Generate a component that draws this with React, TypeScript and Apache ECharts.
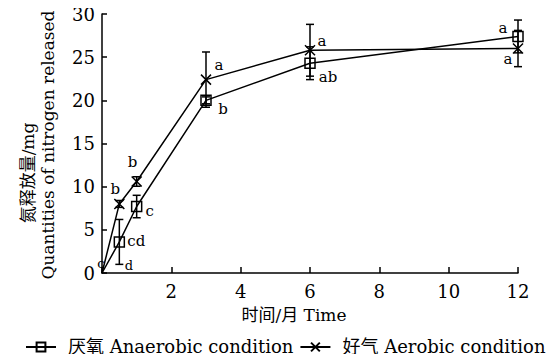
import React, { useEffect, useRef } from "react";
import * as echarts from "echarts";

const months = [0, 0.5, 1, 3, 6, 12];
const anaerobic = [0, 3.6, 7.7, 20.0, 24.3, 27.4];
const anaerobicErr = [0, 2.6, 1.3, 0.4, 1.9, 1.9];
const anaerobicLetters = ["d", "cd", "c", "b", "ab", "a"];
const aerobic = [0, 8.0, 10.6, 22.4, 25.8, 26.0];
const aerobicErr = [0, 0.4, 0.55, 3.2, 3.0, 2.1];
const aerobicLetters = ["c", "b", "b", "a", "a", "a"];
const xTicks = [0, 2, 4, 6, 8, 10, 12];
const yTicks = [0, 5, 10, 15, 20, 25, 30];

const anaerobicLabelOffsets = [[27, -8], [17, -1], [13, 4], [17, 9], [18, 14], [-15, -8]];
const aerobicLabelOffsets = [[-1, -10], [-4, -15], [-4, -19], [13, -15], [12, -9], [-10, 10]];

const FONT = "'DejaVu Serif', 'Noto Sans CJK SC', serif";
const XSYM = "path://M0,0L10,10M0,10L10,0";

function lineData(vals: number[], letters: string[], offs: number[][]) {
  return months.map((m, i) => ({
    value: [m, vals[i]],
    symbolSize: i === 0 ? 0 : 10,
    label: {
      show: true,
      formatter: letters[i],
      position: "inside",
      offset: offs[i],
      fontSize: i === 0 ? 13 : 15,
      fontFamily: FONT,
      color: "#000",
    },
  }));
}

function errData(vals: number[], errs: number[]) {
  return months
    .map((m, i) => [m, vals[i] - errs[i], vals[i] + errs[i]])
    .filter((d, i) => errs[i] > 0);
}

function errorSeries(vals: number[], errs: number[]) {
  return {
    type: "custom",
    data: errData(vals, errs),
    z: 5,
    silent: true,
    renderItem: (params: any, api: any) => {
      const x = api.value(0);
      const lo = api.coord([x, api.value(1)]);
      const hi = api.coord([x, api.value(2)]);
      const w = 4;
      const style = { stroke: "#000", lineWidth: 1.5, fill: null };
      return {
        type: "group",
        children: [
          { type: "line", shape: { x1: lo[0], y1: lo[1], x2: hi[0], y2: hi[1] }, style },
          { type: "line", shape: { x1: lo[0] - w, y1: lo[1], x2: lo[0] + w, y2: lo[1] }, style },
          { type: "line", shape: { x1: hi[0] - w, y1: hi[1], x2: hi[0] + w, y2: hi[1] }, style },
        ],
      };
    },
  };
}

export default function App() {
  const ref = useRef<HTMLDivElement>(null);
  useEffect(() => {
    if (!ref.current) return;
    const chart = echarts.init(ref.current, null, { renderer: "svg" });
    chart.setOption({
      animation: false,
      backgroundColor: "#fff",
      textStyle: { fontFamily: FONT },
      grid: { left: 102, right: 36, top: 14, bottom: 89 },
      xAxis: {
        type: "value",
        min: xTicks[0],
        max: xTicks[xTicks.length - 1],
        interval: 2,
        axisLine: { lineStyle: { color: "#000", width: 1.5 } },
        axisTick: { inside: true, length: 6, lineStyle: { color: "#000", width: 1.5 } },
        axisLabel: {
          color: "#000",
          fontSize: 18,
          fontFamily: FONT,
          margin: 9,
          formatter: (v: number) => (v === 0 ? "" : String(v)),
        },
        splitLine: { show: false },
      },
      yAxis: {
        type: "value",
        min: yTicks[0],
        max: yTicks[yTicks.length - 1],
        interval: 5,
        axisLine: { show: true, lineStyle: { color: "#000", width: 1.5 } },
        axisTick: { show: true, inside: true, length: 5, lineStyle: { color: "#000", width: 1.5 } },
        axisLabel: { color: "#000", fontSize: 18, fontFamily: FONT, margin: 7 },
        splitLine: { show: false },
      },
      legend: {
        left: 20,
        top: 333,
        itemWidth: 30,
        itemHeight: 11,
        itemGap: 6,
        textStyle: { fontSize: 18, fontFamily: FONT, color: "#000", padding: [0, 0, 0, 7] },
        data: [
          { name: "厌氧 Anaerobic condition" },
          { name: "好气 Aerobic condition" },
        ],
      },
      graphic: [
        {
          type: "text",
          x: 28,
          y: 173,
          rotation: Math.PI / 2,
          style: { text: "氮释放量/mg", font: `17px ${FONT}`, fill: "#000", align: "center", verticalAlign: "middle" },
        },
        {
          type: "text",
          x: 48,
          y: 145,
          rotation: Math.PI / 2,
          style: {
            text: "Quantities of nitrogen released",
            font: `17px ${FONT}`,
            fill: "#000",
            align: "center",
            verticalAlign: "middle",
          },
        },
        {
          type: "text",
          x: 294,
          y: 315,
          style: { text: "时间/月 Time", font: `17px ${FONT}`, fill: "#000", align: "center", verticalAlign: "middle" },
        },
      ],
      series: [
        {
          name: "厌氧 Anaerobic condition",
          type: "line",
          data: lineData(anaerobic, anaerobicLetters, anaerobicLabelOffsets),
          symbol: "rect",
          symbolSize: 10,
          showSymbol: true,
          lineStyle: { color: "#000", width: 1.5 },
          itemStyle: { color: "rgba(255,255,255,0)", borderColor: "#000", borderWidth: 1.5 },
          z: 3,
        },
        {
          name: "好气 Aerobic condition",
          type: "line",
          data: lineData(aerobic, aerobicLetters, aerobicLabelOffsets),
          symbol: XSYM,
          symbolSize: 10,
          lineStyle: { color: "#000", width: 1.5 },
          itemStyle: { color: "#000", borderColor: "#000", borderWidth: 1.5 },
          z: 3,
        },
        errorSeries(anaerobic, anaerobicErr),
        errorSeries(aerobic, aerobicErr),
      ],
    });
    return () => chart.dispose();
  }, []);
  return <div ref={ref} style={{ width: 554, height: 362, margin: -8 }} />;
}
